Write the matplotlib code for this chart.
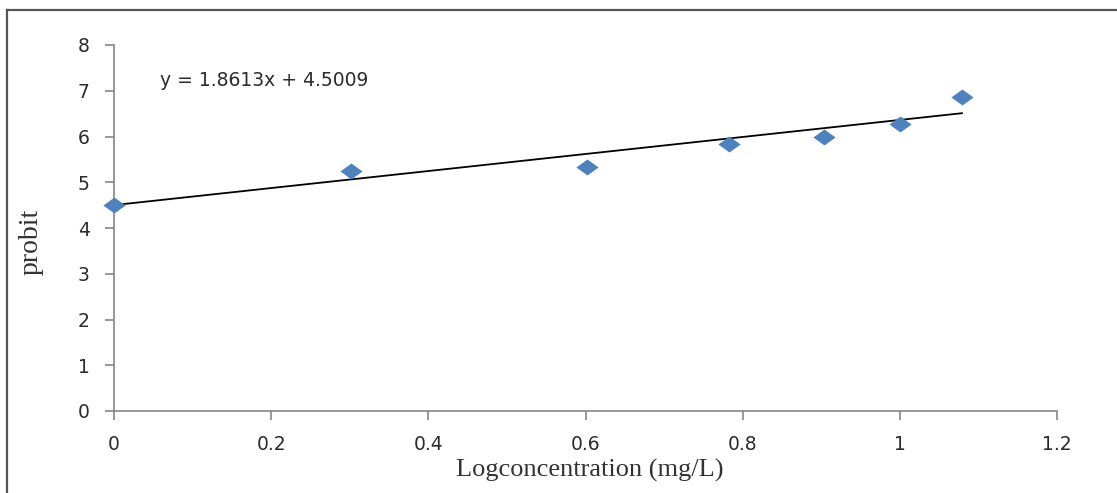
import matplotlib
matplotlib.use("Agg")
import matplotlib.pyplot as plt
from matplotlib.lines import Line2D
import numpy as np

# Data
log_conc = [0.0, 0.301, 0.602, 0.782, 0.903, 1.0, 1.079]
probit = [4.50, 5.24, 5.33, 5.84, 5.99, 6.27, 6.87]
slope, intercept = 1.8613, 4.5009
x_ticks = [0, 0.2, 0.4, 0.6, 0.8, 1.0, 1.2]
x_tick_labels = ["0", "0.2", "0.4", "0.6", "0.8", "1", "1.2"]
y_ticks = [0, 1, 2, 3, 4, 5, 6, 7, 8]

W, H = 1117, 493
fig = plt.figure(figsize=(W / 100, H / 100), dpi=100)
ax = fig.add_axes([114 / W, 1 - 411 / H, (1057 - 114) / W, (411 - 45) / H])

diamond = [(-1, 0), (0, 0.72), (1, 0), (0, -0.72), (-1, 0)]
ax.plot(log_conc, probit, linestyle="none", marker=diamond, markersize=16,
        color="#4F81BD", markeredgewidth=0, zorder=3, clip_on=False)

xf = np.array([min(log_conc), max(log_conc)])
ax.plot(xf, slope * xf + intercept, color="black", lw=1.3, zorder=2)

ax.set_xlim(0, 1.2)
ax.set_ylim(0, 8)
ax.set_xticks(x_ticks)
ax.set_xticklabels(x_tick_labels)
ax.set_yticks(y_ticks)

for s in ["top", "right"]:
    ax.spines[s].set_visible(False)
for s in ["left", "bottom"]:
    ax.spines[s].set_color("#868686")
    ax.spines[s].set_linewidth(1.2)

ax.tick_params(axis="both", direction="out", color="#868686", width=1.2,
               length=6.5, labelsize=13.5, labelcolor="#2b2b2b")
ax.tick_params(axis="y", pad=11)
ax.tick_params(axis="x", pad=11)

ax.text(160 / W, 1 - 80 / H, "y = 1.8613x + 4.5009", transform=fig.transFigure,
        fontsize=13.5, color="#2b2b2b", ha="left", va="center")

fig.text(590 / W, 1 - 470 / H, "Logconcentration (mg/L)", family="Liberation Serif",
         fontsize=19, color="#333333", ha="center", va="center")
fig.text(31 / W, 1 - 242 / H, "probit", family="Liberation Serif",
         fontsize=20, color="#333333", ha="center", va="center", rotation=90)

# Figure border (left and top)
fig.add_artist(Line2D([7 / W, 7 / W], [0, 1 - 10 / H], transform=fig.transFigure,
                      color="#555555", lw=1.6))
fig.add_artist(Line2D([7 / W, 1], [1 - 10 / H, 1 - 10 / H], transform=fig.transFigure,
                      color="#555555", lw=1.6))

fig.savefig("out.png", dpi=100)
